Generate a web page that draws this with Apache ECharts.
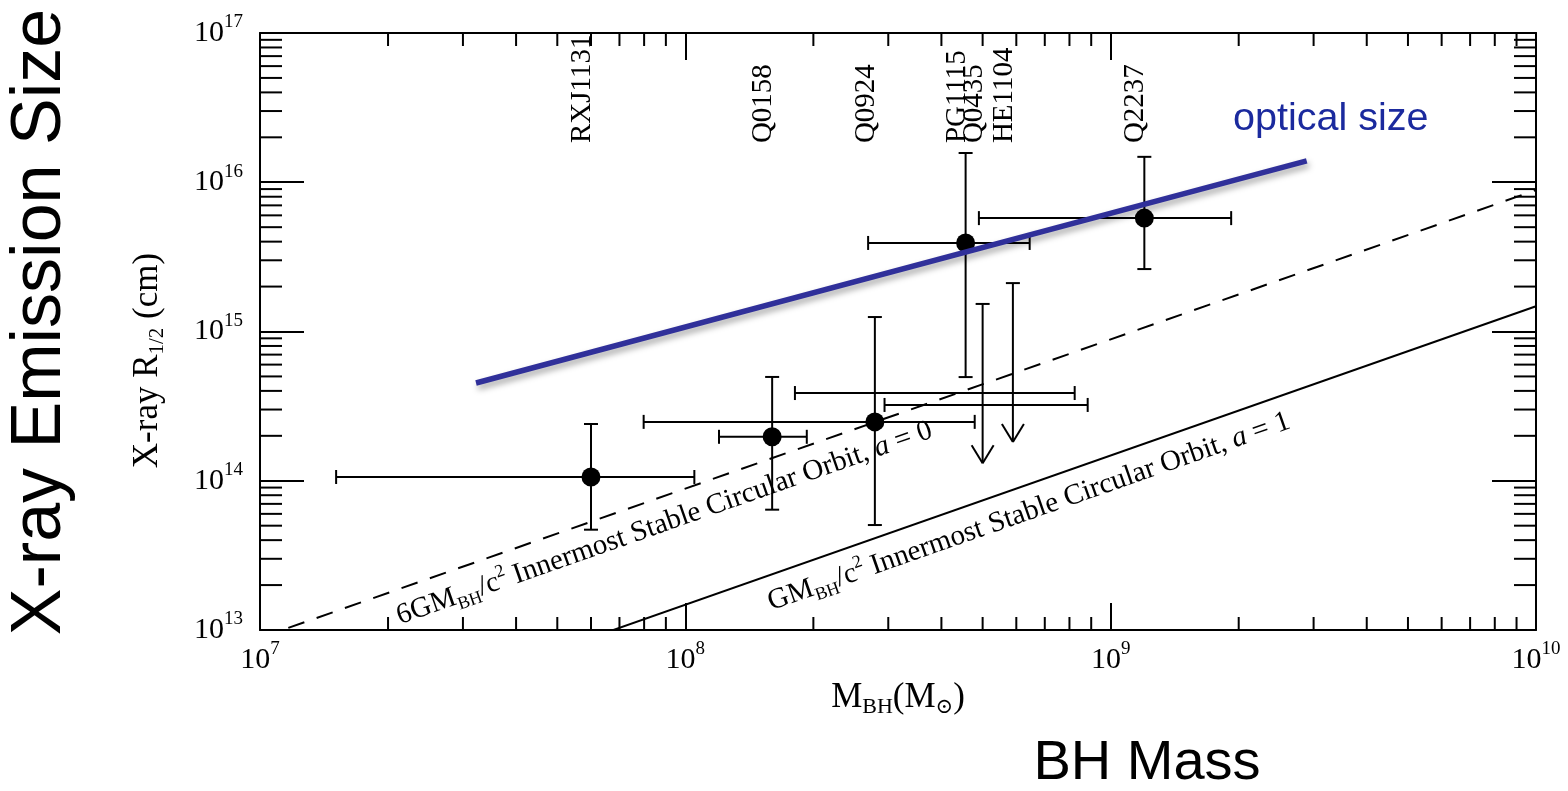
<!DOCTYPE html>
<html>
<head>
<meta charset="utf-8">
<script src="https://cdn.jsdelivr.net/npm/echarts@6/dist/echarts.min.js"></script>
<style>
  html, body { margin: 0; padding: 0; background: #fff; }
  #chart { width: 1568px; height: 791px; }
</style>
</head>
<body>
<div id="chart"></div>
<script>
// Axis ranges (solar masses, cm)
const massExtent = [1e7, 1e10];
const sizeExtent = [1e13, 1e17];

// Lensed quasars with measured X-ray half-light radius
const sourceNames = ['RXJ1131', 'Q0158', 'Q0924', 'PG1115', 'Q2237'];
const sourceMass = [6.0e7, 1.6e8, 2.79e8, 4.56e8, 1.2e9];
const massLow = [1.51e7, 1.2e8, 7.98e7, 2.69e8, 4.9e8];
const massHigh = [1.05e8, 1.93e8, 4.79e8, 6.45e8, 1.92e9];
const sizeR = [1.06e14, 1.97e14, 2.48e14, 3.92e15, 5.75e15];
const sizeLow = [4.7e13, 6.4e13, 5.05e13, 4.95e14, 2.62e15];
const sizeHigh = [2.4e14, 4.96e14, 1.25e15, 1.57e16, 1.48e16];

// Sources with upper limits only
const limitNames = ['Q0435', 'HE1104'];
const limitMass = [5.0e8, 5.89e8];
const limitMassLow = [2.94e8, 1.81e8];
const limitMassHigh = [8.83e8, 8.23e8];
const limitBarSize = [3.22e14, 3.87e14];
const limitTop = [1.53e15, 2.11e15];
const limitArrowTip = [1.31e14, 1.82e14];

// Reference relations
const opticalSize = [[3.22e7, 4.52e14], [2.89e9, 1.39e16]];
const isco6 = [[1e7, 8.86e12], [1e10, 8.86e15]];   // 6GM/c^2, a = 0
const isco1 = [[1e7, 1.477e12], [1e10, 1.477e15]]; // GM/c^2,  a = 1

// Source names are written vertically, starting at this radius
const nameLabelSize = 1.83e16;

// Anchor points on each orbit line where its caption starts
const isco6LabelAnchor = [2.01e7, 1.78e13];
const isco1LabelAnchor = [1.50e8, 2.21e13];

// Minor tick values (2..9 per decade)
const minorSteps = [2, 3, 4, 5, 6, 7, 8, 9];
const massDecades = [1e7, 1e8, 1e9];
const sizeDecades = [1e13, 1e14, 1e15, 1e16];
const massMinor = massDecades.flatMap(d => minorSteps.map(k => k * d));
const sizeMinor = sizeDecades.flatMap(d => minorSteps.map(k => k * d));

const SERIF = '"Liberation Serif", "Times New Roman", "DejaVu Serif", serif';
const SANS = '"Liberation Sans", Arial, Helvetica, sans-serif';

function seg(x1, y1, x2, y2, w) {
  return { type: 'line', shape: { x1, y1, x2, y2 }, style: { stroke: '#000', lineWidth: w || 2 } };
}

const powLabel = v => '{b|10}{s|' + Math.round(Math.log10(v)) + '}';
const powRich = {
  b: { fontFamily: SERIF, fontSize: 30, lineHeight: 40, color: '#000' },
  s: { fontFamily: SERIF, fontSize: 19, lineHeight: 19, verticalAlign: 'top', color: '#000' }
};

const captionRich = {
  m: { fontFamily: SERIF, fontSize: 29, lineHeight: 36, fill: '#000' },
  i: { fontFamily: SERIF, fontSize: 29, lineHeight: 36, fontStyle: 'italic', fill: '#000' },
  sub: { fontFamily: SERIF, fontSize: 18, lineHeight: 18, verticalAlign: 'bottom', fill: '#000' },
  sup: { fontFamily: SERIF, fontSize: 18, lineHeight: 26, verticalAlign: 'top', fill: '#000' }
};

const lineCaptions = [
  { anchor: isco6LabelAnchor, line: isco6,
    text: '{m|6GM}{sub|BH}{m|/c}{sup|2}{m| Innermost Stable Circular Orbit, }{i|a}{m| = 0}' },
  { anchor: isco1LabelAnchor, line: isco1,
    text: '{m|GM}{sub|BH}{m|/c}{sup|2}{m| Innermost Stable Circular Orbit, }{i|a}{m| = 1}' }
];

const allNames = sourceNames.concat(limitNames);
const allNameMass = sourceMass.concat(limitMass);

const chart = echarts.init(document.getElementById('chart'), null, { renderer: 'canvas' });

const axisLineStyle = { lineStyle: { color: '#000', width: 2 } };

const option = {
  animation: false,
  backgroundColor: '#fff',
  grid: { left: 260, right: 32, top: 33, bottom: 161, outerBoundsMode: 'none', containLabel: false },
  xAxis: [
    {
      type: 'log', logBase: 10, min: massExtent[0], max: massExtent[1], position: 'bottom',
      axisLine: axisLineStyle,
      axisTick: { inside: true, length: 27, lineStyle: { color: '#000', width: 2 } },
      minorTick: { show: false },
      splitLine: { show: false },
      axisLabel: { formatter: powLabel, rich: powRich, margin: 10, showMinLabel: true, showMaxLabel: true },
      name: '{t|M}{sub|BH}{t|(M}{sun|⊙}{t|)}',
      nameLocation: 'middle',
      nameGap: 39,
      nameTextStyle: {
        rich: {
          t: { fontFamily: SERIF, fontSize: 35, lineHeight: 42, color: '#000' },
          sub: { fontFamily: SERIF, fontSize: 22, lineHeight: 22, verticalAlign: 'bottom', color: '#000' },
          sun: { fontFamily: '"DejaVu Serif", serif', fontSize: 21, lineHeight: 22, verticalAlign: 'bottom', color: '#000' }
        }
      }
    },
    {
      type: 'log', logBase: 10, min: massExtent[0], max: massExtent[1], position: 'top',
      axisLine: axisLineStyle,
      axisTick: { inside: true, length: 27, lineStyle: { color: '#000', width: 2 } },
      splitLine: { show: false },
      axisLabel: { show: false }
    }
  ],
  yAxis: [
    {
      type: 'log', logBase: 10, min: sizeExtent[0], max: sizeExtent[1], position: 'left',
      axisLine: axisLineStyle,
      axisTick: { inside: true, length: 44, lineStyle: { color: '#000', width: 2 } },
      splitLine: { show: false },
      axisLabel: { formatter: powLabel, rich: powRich, margin: 17, showMinLabel: true, showMaxLabel: true },
      name: '{t|X-ray R}{sub|1/2}{t| (cm)}',
      nameLocation: 'middle',
      nameRotate: 90,
      nameGap: 92,
      nameTextStyle: {
        padding: [0, 58, 0, 0],
        rich: {
          t: { fontFamily: SERIF, fontSize: 35, lineHeight: 40, color: '#000' },
          sub: { fontFamily: SERIF, fontSize: 21, lineHeight: 21, verticalAlign: 'bottom', color: '#000' }
        }
      }
    },
    {
      type: 'log', logBase: 10, min: sizeExtent[0], max: sizeExtent[1], position: 'right',
      axisLine: axisLineStyle,
      axisTick: { inside: true, length: 44, lineStyle: { color: '#000', width: 2 } },
      splitLine: { show: false },
      axisLabel: { show: false }
    }
  ],
  graphic: [
    {
      type: 'text', x: 41, y: 322, rotation: Math.PI / 2,
      style: { text: 'X-ray Emission Size', font: '70px ' + SANS, fill: '#000',
               align: 'center', verticalAlign: 'middle', textAlign: 'center', textVerticalAlign: 'middle' }
    },
    {
      type: 'text', x: 1147, y: 764,
      style: { text: 'BH Mass', font: '56px ' + SANS, fill: '#000',
               align: 'center', verticalAlign: 'middle', textAlign: 'center', textVerticalAlign: 'middle' }
    },
    {
      type: 'text', x: 1233, y: 119,
      style: { text: 'optical size', font: '39.5px ' + SANS, fill: '#1b2a9e',
               align: 'left', verticalAlign: 'middle', textAlign: 'left', textVerticalAlign: 'middle' }
    }
  ],
  series: [
    // minor ticks along the mass axes
    {
      type: 'custom', xAxisIndex: 0, yAxisIndex: 0, z: 1, silent: true,
      data: massMinor.map(v => [v, 1e15]),
      encode: { x: 0, y: 1 },
      renderItem: (params, api) => {
        const v = api.value(0);
        const pb = api.coord([v, sizeExtent[0]]);
        const pt = api.coord([v, sizeExtent[1]]);
        return { type: 'group', children: [
          seg(pb[0], pb[1], pb[0], pb[1] - 13),
          seg(pt[0], pt[1], pt[0], pt[1] + 13)
        ] };
      }
    },
    // minor ticks along the size axes
    {
      type: 'custom', xAxisIndex: 0, yAxisIndex: 0, z: 1, silent: true,
      data: sizeMinor.map(v => [1e8, v]),
      encode: { x: 0, y: 1 },
      renderItem: (params, api) => {
        const v = api.value(1);
        const pl = api.coord([massExtent[0], v]);
        const pr = api.coord([massExtent[1], v]);
        return { type: 'group', children: [
          seg(pl[0], pl[1], pl[0] + 22, pl[1]),
          seg(pr[0], pr[1], pr[0] - 22, pr[1])
        ] };
      }
    },
    // innermost stable circular orbits
    {
      type: 'line', xAxisIndex: 0, yAxisIndex: 0, z: 2, data: isco6, symbol: 'none', clip: true,
      lineStyle: { color: '#000', width: 2, type: [17, 13] }, silent: true
    },
    {
      type: 'line', xAxisIndex: 0, yAxisIndex: 0, z: 2, data: isco1, symbol: 'none', clip: true,
      lineStyle: { color: '#000', width: 2 }, silent: true
    },
    // captions along the orbit lines, set just below each line
    {
      type: 'custom', xAxisIndex: 0, yAxisIndex: 0, z: 2, silent: true,
      data: lineCaptions.map(c => c.anchor),
      encode: { x: 0, y: 1 },
      renderItem: (params, api) => {
        const cap = lineCaptions[params.dataIndex];
        const p = api.coord([api.value(0), api.value(1)]);
        const a = api.coord(cap.line[0]);
        const b = api.coord(cap.line[1]);
        const rot = Math.atan2(a[1] - b[1], b[0] - a[0]);
        return {
          type: 'group', x: p[0], y: p[1], rotation: rot,
          children: [{
            type: 'text', x: 0, y: 26,
            style: { text: cap.text, rich: captionRich, align: 'left', verticalAlign: 'middle',
                     textAlign: 'left', textVerticalAlign: 'middle' }
          }]
        };
      }
    },
    // error bars
    {
      type: 'custom', xAxisIndex: 0, yAxisIndex: 0, z: 3, silent: true,
      dimensions: ['m', 'r', 'ml', 'mh', 'rl', 'rh'],
      data: sourceMass.map((m, i) => [m, sizeR[i], massLow[i], massHigh[i], sizeLow[i], sizeHigh[i]]),
      encode: { x: 0, y: 1 },
      renderItem: (params, api) => {
        const m = api.value(0), r = api.value(1);
        const pl = api.coord([api.value(2), r]);
        const ph = api.coord([api.value(3), r]);
        const pb = api.coord([m, api.value(4)]);
        const pt = api.coord([m, api.value(5)]);
        const c = 7;
        return { type: 'group', children: [
          seg(pl[0], pl[1], ph[0], ph[1]),
          seg(pl[0], pl[1] - c, pl[0], pl[1] + c),
          seg(ph[0], ph[1] - c, ph[0], ph[1] + c),
          seg(pb[0], pb[1], pt[0], pt[1]),
          seg(pb[0] - c, pb[1], pb[0] + c, pb[1]),
          seg(pt[0] - c, pt[1], pt[0] + c, pt[1])
        ] };
      }
    },
    // upper limits
    {
      type: 'custom', xAxisIndex: 0, yAxisIndex: 0, z: 3, silent: true,
      dimensions: ['m', 'top', 'tip', 'ml', 'mh', 'rb'],
      data: limitMass.map((m, i) => [m, limitTop[i], limitArrowTip[i], limitMassLow[i], limitMassHigh[i], limitBarSize[i]]),
      encode: { x: 0, y: 1 },
      renderItem: (params, api) => {
        const m = api.value(0);
        const pt = api.coord([m, api.value(1)]);
        const pa = api.coord([m, api.value(2)]);
        const rb = api.value(5);
        const pl = api.coord([api.value(3), rb]);
        const ph = api.coord([api.value(4), rb]);
        const c = 7;
        return { type: 'group', children: [
          seg(pt[0], pt[1], pa[0], pa[1]),
          seg(pt[0] - c, pt[1], pt[0] + c, pt[1]),
          seg(pa[0] - 11, pa[1] - 18, pa[0], pa[1]),
          seg(pa[0] + 11, pa[1] - 18, pa[0], pa[1]),
          seg(pl[0], pl[1], ph[0], ph[1]),
          seg(pl[0], pl[1] - c, pl[0], pl[1] + c),
          seg(ph[0], ph[1] - c, ph[0], ph[1] + c)
        ] };
      }
    },
    // measured sizes
    {
      type: 'scatter', xAxisIndex: 0, yAxisIndex: 0, z: 4, silent: true,
      data: sourceMass.map((m, i) => [m, sizeR[i]]),
      symbol: 'circle', symbolSize: 19,
      itemStyle: { color: '#000', opacity: 1 }
    },
    // optical size relation
    {
      type: 'line', xAxisIndex: 0, yAxisIndex: 0, z: 5, data: opticalSize, symbol: 'none', silent: true,
      lineStyle: { color: '#30309a', width: 5.5, shadowColor: 'rgba(0,0,0,0.35)', shadowBlur: 6,
                   shadowOffsetX: 2, shadowOffsetY: 4 }
    },
    // source names
    {
      type: 'custom', xAxisIndex: 0, yAxisIndex: 0, z: 3, silent: true,
      data: allNameMass.map(m => [m, nameLabelSize]),
      encode: { x: 0, y: 1 },
      renderItem: (params, api) => {
        const p = api.coord([api.value(0), api.value(1)]);
        return {
          type: 'text', x: p[0] + 6, y: p[1], rotation: Math.PI / 2,
          style: { text: allNames[params.dataIndex], font: '29px ' + SERIF, fill: '#000',
                   align: 'left', verticalAlign: 'bottom', textAlign: 'left', textVerticalAlign: 'bottom' }
        };
      }
    }
  ]
};

chart.setOption(option);
</script>
</body>
</html>
